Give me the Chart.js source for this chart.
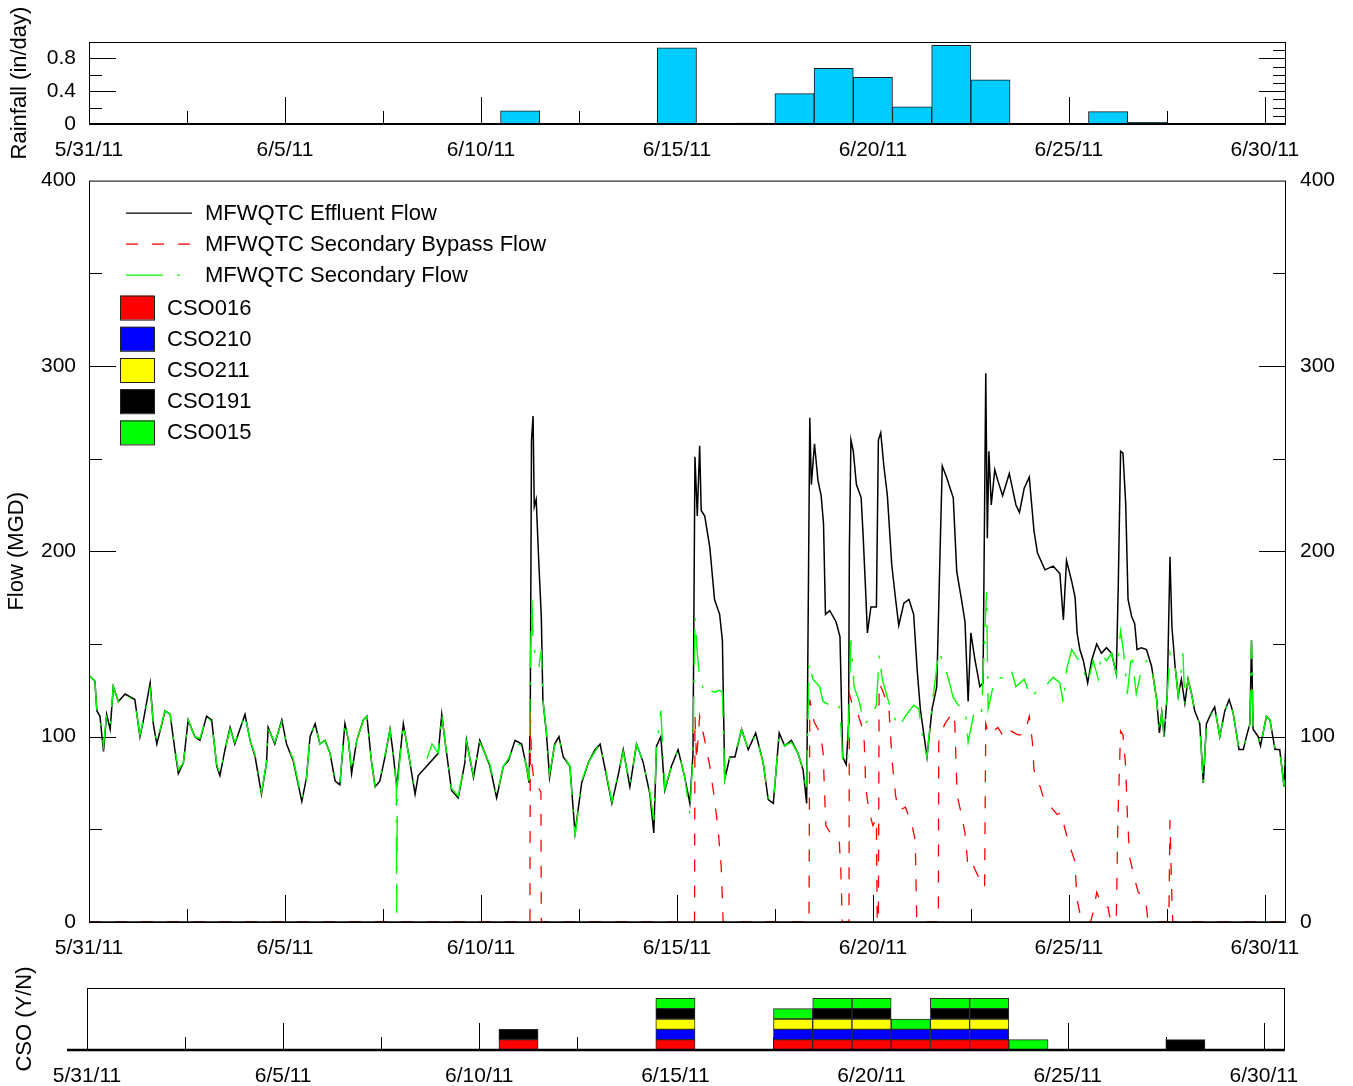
<!DOCTYPE html>
<html>
<head>
<meta charset="utf-8">
<title>MFWQTC flows and CSO, June 2011</title>
<script src="https://cdn.jsdelivr.net/npm/chart.js@4.4.1/dist/chart.umd.min.js"></script>
<style>
  body { margin: 0; background: #fff; }
  #wrap { position: relative; width: 1353px; height: 1086px; }
  .panel { position: absolute; left: 0; width: 1353px; }
  #rainBox { top: 0; height: 165px; }
  #flowBox { top: 154px; height: 811px; }
  #csoBox { top: 965px; height: 121px; }
</style>
</head>
<body>
<div id="wrap">
  <div class="panel" id="rainBox"><canvas id="rainChart"></canvas></div>
  <div class="panel" id="flowBox"><canvas id="flowChart"></canvas></div>
  <div class="panel" id="csoBox"><canvas id="csoChart"></canvas></div>
</div>
<script>
// x values are days after 5/31/11 00:00
const dateLabels = ['5/31/11', '6/5/11', '6/10/11', '6/15/11', '6/20/11', '6/25/11', '6/30/11'];
const xMax = 30.54;

// daily rainfall (in/day)
const rainDays = [11, 15, 17, 18, 19, 20, 21, 22, 23, 26, 27];
const rainInches = [0.16, 0.93, 0.01, 0.37, 0.68, 0.57, 0.21, 0.96, 0.54, 0.15, 0.02];

// MFWQTC effluent flow (MGD)
const effluentDays = [
  0.00, 0.15, 0.20, 0.28, 0.37, 0.45, 0.54, 0.62, 0.75, 0.92, 1.17, 1.30, 1.39, 1.56, 1.64, 1.73, 1.94, 2.07, 2.19, 2.28,
  2.41, 2.53, 2.70, 2.83, 3.00, 3.13, 3.26, 3.34, 3.47, 3.60, 3.72, 3.85, 3.98, 4.11, 4.24, 4.40, 4.53, 4.57, 4.74, 4.92,
  5.04, 5.21, 5.43, 5.55, 5.64, 5.77, 5.89, 6.02, 6.15, 6.28, 6.40, 6.53, 6.62, 6.70, 6.83, 7.00, 7.09, 7.21, 7.30, 7.42,
  7.55, 7.68, 7.76, 7.85, 8.02, 8.15, 8.32, 8.40, 8.91, 9.00, 9.08, 9.25, 9.42, 9.59, 9.63, 9.81, 9.97, 10.10, 10.23, 10.40,
  10.57, 10.70, 10.87, 11.04, 11.16, 11.23, 11.26, 11.29, 11.33, 11.36, 11.41, 11.48, 11.54, 11.58, 11.67, 11.75, 11.88, 11.99, 12.10, 12.27,
  12.40, 12.57, 12.74, 12.91, 13.04, 13.21, 13.34, 13.51, 13.63, 13.80, 13.97, 14.14, 14.31, 14.41, 14.48, 14.59, 14.69, 14.86, 15.03, 15.20,
  15.33, 15.41, 15.46, 15.52, 15.58, 15.62, 15.71, 15.84, 15.96, 16.09, 16.16, 16.22, 16.35, 16.48, 16.65, 16.82, 17.01, 17.20, 17.33, 17.46,
  17.61, 17.75, 17.92, 18.09, 18.22, 18.31, 18.39, 18.43, 18.51, 18.60, 18.68, 18.74, 18.79, 18.90, 19.06, 19.16, 19.23, 19.32, 19.38, 19.40,
  19.44, 19.50, 19.58, 19.70, 19.75, 19.81, 19.86, 19.95, 20.09, 20.14, 20.20, 20.28, 20.37, 20.48, 20.58, 20.66, 20.79, 20.92, 21.04, 21.13,
  21.21, 21.38, 21.51, 21.63, 21.72, 21.77, 21.88, 21.97, 22.05, 22.14, 22.26, 22.35, 22.43, 22.50, 22.60, 22.73, 22.81, 22.88, 22.92, 22.96,
  23.02, 23.11, 23.19, 23.31, 23.48, 23.65, 23.74, 23.86, 23.99, 24.11, 24.20, 24.39, 24.60, 24.77, 24.86, 24.94, 25.07, 25.16, 25.21, 25.28,
  25.37, 25.48, 25.58, 25.71, 25.83, 25.96, 26.09, 26.21, 26.26, 26.32, 26.38, 26.45, 26.51, 26.60, 26.68, 26.74, 26.85, 26.98, 27.11, 27.24,
  27.31, 27.37, 27.43, 27.51, 27.58, 27.63, 27.71, 27.79, 27.87, 27.96, 28.04, 28.13, 28.21, 28.34, 28.43, 28.51, 28.64, 28.72, 28.85, 28.98,
  29.09, 29.19, 29.34, 29.45, 29.53, 29.62, 29.66, 29.70, 29.83, 29.89, 30.04, 30.13, 30.26, 30.38, 30.49, 30.54
];
const effluentMGD = [
  133, 130, 114, 111, 92, 112, 104, 127, 119, 123, 120, 100, 109, 129, 107, 96, 114, 112, 93, 80,
  86, 109, 100, 98, 111, 109, 84, 79, 93, 105, 96, 104, 112, 98, 89, 69, 86, 105, 96, 109,
  96, 87, 65, 78, 100, 107, 96, 98, 91, 76, 74, 107, 98, 80, 98, 109, 111, 86, 73, 76,
  89, 104, 91, 73, 107, 91, 69, 79, 91, 112, 98, 71, 67, 86, 98, 78, 98, 91, 84, 67,
  84, 87, 98, 96, 84, 75, 120, 260, 273, 224, 228, 192, 165, 120, 102, 78, 96, 100, 89, 84,
  48, 75, 86, 93, 96, 78, 64, 80, 93, 73, 96, 86, 69, 48, 95, 100, 71, 84, 93, 78,
  64, 91, 251, 219, 257, 222, 219, 202, 174, 166, 152, 77, 89, 89, 104, 93, 102, 86, 66, 64,
  102, 95, 98, 91, 82, 64, 272, 236, 258, 238, 230, 215, 166, 168, 162, 154, 89, 85, 107, 201,
  260, 254, 236, 229, 209, 181, 156, 170, 170, 260, 264, 246, 230, 193, 174, 160, 172, 174, 166, 136,
  115, 89, 115, 127, 205, 246, 240, 234, 229, 189, 174, 162, 119, 156, 142, 127, 129, 296, 207, 254,
  225, 244, 238, 230, 242, 225, 221, 234, 240, 211, 199, 190, 192, 188, 163, 195, 184, 175, 156, 147,
  141, 129, 141, 150, 145, 148, 145, 134, 181, 254, 253, 226, 174, 165, 161, 147, 148, 147, 138, 120,
  102, 113, 100, 123, 197, 159, 138, 122, 131, 118, 131, 123, 114, 107, 75, 107, 113, 116, 100, 114,
  120, 113, 93, 93, 100, 107, 152, 104, 100, 95, 111, 109, 93, 93, 73, 98
];

// MFWQTC secondary flow (MGD), null = no record
const secondaryDays = [
  0.00, 0.15, 0.20, 0.28, 0.37, 0.45, 0.54, 0.62, 0.75, 0.92, 1.17, 1.30, 1.39, 1.56, 1.64, 1.73, 1.94, 2.07, 2.19, 2.28,
  2.41, 2.53, 2.70, 2.83, 3.00, 3.13, 3.26, 3.34, 3.47, 3.60, 3.72, 3.85, 3.98, 4.11, 4.24, 4.40, 4.53, 4.57, 4.74, 4.92,
  5.04, 5.21, 5.43, 5.55, 5.64, 5.77, 5.89, 6.02, 6.15, 6.28, 6.40, 6.53, 6.62, 6.70, 6.83, 7.00, 7.09, 7.21, 7.30, 7.42,
  7.55, 7.68, 7.76, 7.84, 7.85, 7.87, 8.02, 8.15, 8.32, 8.40, 8.62, 8.75, 8.91, 9.00, 9.08, 9.25, 9.42, 9.59, 9.63, 9.81,
  9.97, 10.10, 10.23, 10.40, 10.57, 10.70, 10.87, 11.04, 11.16, 11.23, 11.26, 11.30, 11.33, 11.41, 11.48, 11.54, 11.58, 11.67, 11.75, 11.88,
  11.99, 12.10, 12.27, 12.40, 12.57, 12.74, 12.91, 13.04, 13.21, 13.34, 13.51, 13.63, 13.80, 13.97, 14.14, 14.31, 14.41, 14.48, 14.59, 14.69,
  14.86, 15.03, 15.20, 15.33, 15.41, 15.46, 15.52, 15.58, 15.71, 15.84, 15.96, 16.09, 16.16, 16.22, 16.35, 16.48, 16.65, 16.82, 17.01, 17.20,
  17.33, 17.46, 17.61, 17.75, 17.92, 18.09, 18.22, 18.31, 18.37, 18.47, 18.64, 18.73, 18.90, 19.06, 19.16, 19.23, 19.35, 19.44, 19.52, 19.65,
  19.78, 19.91, 20.09, 20.16, 20.24, 20.37, 20.49, 20.66, 20.83, 21.04, 21.17, 21.29, 21.38, 21.51, 21.68, 21.80, 21.93, 22.05, 22.18, 22.35,
  22.43, 22.60, 22.77, 22.90, 22.94, 23.11, 23.36, 23.53, 23.65, 23.86, 24.03, 24.20, 24.39, 24.60, 24.77, 24.86, 24.94, 25.07, 25.19, 25.32,
  25.48, 25.62, 25.75, 25.83, 25.96, 26.09, 26.21, 26.32, 26.40, 26.49, 26.60, 26.72, 26.85, 26.98, 27.11, 27.24, 27.31, 27.37, 27.43, 27.51,
  27.58, 27.63, 27.71, 27.79, 27.91, 27.96, 28.04, 28.13, 28.21, 28.34, 28.43, 28.51, 28.64, 28.72, 28.85, 28.98, 29.09, 29.19, 29.34, 29.45,
  29.53, 29.62, 29.66, 29.70, 29.83, 29.89, 30.04, 30.13, 30.26, 30.38, 30.49, 30.54
];
const secondaryMGD = [
  133, 130, 114, 111, 95, 112, 106, 127, 119, 123, 119, 101, 109, 126, 108, 97, 114, 112, 94, 82,
  86, 109, 100, 99, 111, 108, 85, 80, 93, 104, 97, 104, 112, 98, 90, 70, 86, 104, 97, 108,
  96, 88, 66, 78, 100, 107, 96, 98, 91, 77, 74, 108, 98, 81, 98, 109, 111, 86, 73, 77,
  90, 104, 91, 74, 5, 74, 107, 91, 70, null, 88, 96, 91, 112, 98, 72, 68, 86, 97, 79,
  97, 91, 85, 68, 84, 88, 97, 95, 84, 76, 140, 174, 152, 140, 138, 147, 120, 103, 80, 95,
  100, 90, 84, 46, 76, 86, 92, 96, 79, 65, 80, 92, 74, 96, 86, 70, 55, 95, 114, 72,
  84, 93, 78, 58, 91, 165, 145, 132, 123, 125, 124, 125, 124, 77, 89, 90, 104, 93, 101, 86,
  67, 65, 101, 95, 97, 91, 82, 70, 140, 131, 127, 119, 117, 119, 115, 87, 85, 152, 127, 119,
  107, 109, 117, 144, 131, 121, 113, 105, 111, 117, 115, 97, 89, 117, 146, 140, 131, 121, 117, 115,
  97, 115, 113, 178, 115, 131, 132, 136, 127, 131, 121, 125, 127, 132, 129, 118, 136, 147, 143, 139,
  129, 141, 131, 145, 141, 145, 134, 157, 145, 123, 145, 123, 136, 141, 138, 120, 102, 113, 100, 123,
  145, 141, 138, 122, 145, 118, 131, 123, 114, 107, 74, 107, 112, 116, 100, 114, 119, 113, 93, 93,
  100, 107, 152, 104, 100, 95, 111, 109, 93, 93, 73, 98
];

// MFWQTC secondary bypass flow (MGD)
const bypassDays = [
  0.00, 11.25, 11.26, 11.29, 11.36, 11.48, 11.53, 11.54, 15.45, 15.46, 15.50, 15.58, 15.71, 15.84, 15.96, 16.05, 16.13, 16.18,
  18.37, 18.39, 18.50, 18.60, 18.68, 18.73, 18.77, 18.80, 18.97, 19.14, 19.18, 19.22,
  19.39, 19.40, 19.48, 19.60, 19.70, 19.78, 19.82, 19.90, 20.00, 20.09, 20.11, 20.14,
  20.16, 20.28, 20.41, 20.49, 20.58, 20.66, 20.83, 21.00, 21.08, 21.12,
  21.67, 21.68, 21.76, 21.84, 21.97, 22.05, 22.09, 22.15, 22.26, 22.35, 22.43, 22.55, 22.68, 22.77, 22.85,
  22.88, 22.96, 23.19, 23.36, 23.53, 23.70, 23.86, 23.99, 24.07, 24.11, 24.22, 24.37, 24.54, 24.70, 24.81, 24.89,
  25.02, 25.15, 25.21, 25.28, 25.37, 25.41, 25.55, 25.62, 25.71, 25.79, 25.88, 26.00, 26.04, 26.21,
  26.25, 26.32, 26.38, 26.45, 26.49, 26.55, 26.68, 26.77, 26.89, 26.98, 27.02, 27.55, 27.58, 27.62, 27.65, 30.54
];
const bypassMGD = [
  0, 0, 113, 87, 75, 72, 70, 0, 0, 111, 87, 111, 98, 84, 66, 50, 30, 0,
  0, 120, 108, 104, 100, 91, 68, 52, 46, 44, 29, 0,
  0, 123, 117, 113, 107, 97, 72, 60, 52, 56, 0, 0,
  129, 123, 115, 87, 68, 60, 62, 52, 44, 0,
  0, 97, 103, 107, 111, 113, 107, 68, 58, 48, 29, 31, 25, 19, 19,
  107, 101, 105, 99, 103, 101, 101, 111, 97, 82, 76, 66, 62, 58, 59, 51,
  41, 33, 12, 5, 3, 0, 0, 5, 16, 12, 8, 8, 3, 0,
  55, 103, 101, 84, 59, 35, 23, 16, 14, 8, 0, 0, 55, 19, 0, 0
];

// CSO overflow days (Y = one block)
const csoNames = ['CSO016', 'CSO210', 'CSO211', 'CSO191', 'CSO015'];
const csoColors = ['#ff0000', '#0000ff', '#ffff00', '#000000', '#00ff00'];
const csoDays = [
  [11, 15, 18, 19, 20, 21, 22, 23],
  [15, 18, 19, 20, 21, 22, 23],
  [15, 18, 19, 20, 22, 23],
  [11, 15, 19, 20, 22, 23, 28],
  [15, 18, 19, 20, 21, 22, 23, 24]
];

Chart.defaults.font.family = "'Liberation Sans', Arial, sans-serif";
Chart.defaults.font.size = 21;
Chart.defaults.color = '#000';
Chart.defaults.animation = false;

function toPoints(days, vals) {
  return days.map((d, i) => ({ x: d, y: vals[i] }));
}

// inward tick marks go under the data, the plot box over it
const framePlugin = {
  id: 'frame',
  beforeDatasetsDraw(chart, args, opts) {
    const { ctx, chartArea: a } = chart;
    const xs = chart.scales.x;
    const seg = (x1, y1, x2, y2) => { ctx.beginPath(); ctx.moveTo(x1, y1); ctx.lineTo(x2, y2); ctx.stroke(); };
    ctx.save();
    ctx.strokeStyle = '#000';
    ctx.lineWidth = 1;
    for (let k = 1; k * 2.5 <= xs.max; k++) {
      const px = Math.round(xs.getPixelForValue(k * 2.5)) + 0.5;
      seg(px, a.bottom, px, a.bottom - (k % 2 === 0 ? 27 : 13));
    }
    const yTicks = (scale, step, major, side) => {
      for (let k = 1; k * step < scale.max - 1e-6; k++) {
        const v = k * step;
        const isMajor = Math.abs(v / major - Math.round(v / major)) < 1e-6;
        const py = Math.round(scale.getPixelForValue(v)) + 0.5;
        const len = isMajor ? 27 : 13;
        if (side === 'left') seg(a.left, py, a.left + len, py);
        else seg(a.right, py, a.right - len, py);
      }
    };
    if (opts.left) yTicks(chart.scales.y, opts.left[0], opts.left[1], 'left');
    if (opts.right) yTicks(chart.scales.y, opts.right[0], opts.right[1], 'right');
    ctx.restore();
  },
  afterDatasetsDraw(chart, args, opts) {
    const { ctx, chartArea: a } = chart;
    ctx.save();
    ctx.strokeStyle = '#000';
    ctx.lineWidth = 1;
    ctx.strokeRect(a.left + 0.5, a.top + 0.5, a.right - a.left - 1, a.bottom - a.top);
    ctx.lineWidth = opts.baseWidth || 1.5;
    ctx.beginPath();
    ctx.moveTo(a.left - (opts.baseExtend || 0), a.bottom);
    ctx.lineTo(a.right, a.bottom);
    ctx.stroke();
    ctx.restore();
  }
};

// legend drawn inside the flow plot, also listing the CSO colours
const flowLegend = {
  id: 'flowLegend',
  afterDraw(chart) {
    const ctx = chart.ctx;
    const top = chart.chartArea.top;
    ctx.save();
    ctx.font = "22px 'Liberation Sans', Arial, sans-serif";
    ctx.textBaseline = 'middle';
    ctx.fillStyle = '#000';
    const lineItems = chart.data.datasets.slice().sort((p, q) => p.legendRank - q.legendRank);
    lineItems.forEach((ds, i) => {
      const y = top + 32 + i * 31;
      ctx.strokeStyle = ds.borderColor;
      ctx.lineWidth = 1.3;
      ctx.setLineDash(ds.borderDash || []);
      ctx.beginPath(); ctx.moveTo(126, y + 0.5); ctx.lineTo(192, y + 0.5); ctx.stroke();
      ctx.setLineDash([]);
      ctx.fillText(ds.label, 205, y + 1);
    });
    csoNames.forEach((name, i) => {
      const y = top + 127 + i * 31.2;
      ctx.fillStyle = csoColors[i];
      ctx.fillRect(120, y - 12, 34, 24);
      ctx.strokeStyle = '#222';
      ctx.lineWidth = 1;
      ctx.strokeRect(120.5, y - 11.5, 34, 24);
      ctx.fillStyle = '#000';
      ctx.fillText(name, 167, y + 1);
    });
    ctx.restore();
  }
};

const xAxis = (height) => ({
  type: 'linear',
  min: 0,
  max: xMax,
  offset: false,
  grid: { display: false, drawTicks: false, offset: false },
  border: { display: false },
  ticks: {
    stepSize: 5,
    includeBounds: false,
    maxRotation: 0,
    autoSkip: false,
    padding: 14,
    callback: v => dateLabels[Math.round(v / 5)]
  },
  afterFit: s => { s.height = height; }
});

const titleFont = { size: 22 };

// Rainfall panel
new Chart(document.getElementById('rainChart'), {
  type: 'bar',
  data: {
    datasets: [{
      label: 'Rainfall',
      data: toPoints(rainDays, rainInches),
      backgroundColor: '#00ccff',
      borderColor: '#1a1a1a',
      borderWidth: 1,
      barPercentage: 1,
      categoryPercentage: 1
    }]
  },
  options: {
    responsive: true,
    maintainAspectRatio: false,
    layout: { padding: { top: 42, right: 67, left: 0, bottom: 0 } },
    plugins: {
      legend: { display: false },
      tooltip: { enabled: false },
      frame: { left: [0.2, 0.4], right: [0.1, 0.4], baseWidth: 2 }
    },
    scales: {
      x: xAxis(41),
      y: {
        min: 0,
        max: 1,
        grid: { display: false, drawTicks: false },
        border: { display: false },
        ticks: { stepSize: 0.4, includeBounds: false, padding: 13 },
        title: { display: true, text: 'Rainfall (in/day)', font: titleFont, padding: { top: 7 } },
        afterFit: s => { s.width = 89; }
      }
    }
  },
  plugins: [framePlugin]
});

// Flow panel
new Chart(document.getElementById('flowChart'), {
  type: 'line',
  data: {
    datasets: [
      {
        label: 'MFWQTC Secondary Flow',
        data: toPoints(secondaryDays, secondaryMGD),
        borderColor: '#00ff00',
        borderDash: [37, 14, 3, 14],
        borderWidth: 1.4,
        legendRank: 2,
        order: 0
      },
      {
        label: 'MFWQTC Secondary Bypass Flow',
        data: toPoints(bypassDays, bypassMGD),
        borderColor: '#ff0000',
        borderDash: [12, 14],
        borderWidth: 1.3,
        legendRank: 1,
        order: 1
      },
      {
        label: 'MFWQTC Effluent Flow',
        data: toPoints(effluentDays, effluentMGD),
        borderColor: '#000000',
        borderWidth: 1.5,
        legendRank: 0,
        order: 2
      }
    ]
  },
  options: {
    responsive: true,
    maintainAspectRatio: false,
    layout: { padding: { top: 0, right: 0, left: 0, bottom: 0 } },
    elements: { point: { radius: 0 }, line: { tension: 0 } },
    spanGaps: false,
    plugins: {
      legend: { display: false },
      tooltip: { enabled: false },
      frame: { left: [50, 100], right: [50, 100], baseWidth: 1.5 }
    },
    scales: {
      x: xAxis(43),
      y: {
        min: 0,
        max: 400,
        grid: { display: false, drawTicks: false },
        border: { display: false },
        ticks: { stepSize: 100, padding: 13 },
        title: { display: true, text: 'Flow (MGD)', font: titleFont, padding: { top: 4 } },
        afterFit: s => { s.width = 89; }
      },
      y2: {
        position: 'right',
        min: 0,
        max: 400,
        grid: { display: false, drawTicks: false },
        border: { display: false },
        ticks: { stepSize: 100, padding: 14 },
        afterFit: s => { s.width = 67; }
      }
    }
  },
  plugins: [framePlugin, flowLegend]
});

// CSO yes/no panel
new Chart(document.getElementById('csoChart'), {
  type: 'bar',
  data: {
    datasets: csoNames.map((name, i) => ({
      label: name,
      data: csoDays[i].map(d => ({ x: d, y: 1 })),
      backgroundColor: csoColors[i],
      borderColor: '#2a2a2a',
      borderWidth: 1,
      borderSkipped: false,
      barPercentage: 1,
      categoryPercentage: 1
    }))
  },
  options: {
    responsive: true,
    maintainAspectRatio: false,
    layout: { padding: { top: 23, right: 68, left: 0, bottom: 0 } },
    plugins: {
      legend: { display: false },
      tooltip: { enabled: false },
      frame: { baseWidth: 2.5, baseExtend: 20 }
    },
    scales: {
      x: Object.assign(xAxis(36), { stacked: true }),
      y: {
        stacked: true,
        min: 0,
        max: 6,
        grid: { display: false, drawTicks: false },
        border: { display: false },
        ticks: { display: false },
        title: { display: true, text: 'CSO (Y/N)', font: titleFont, padding: { top: 12 } },
        afterFit: s => { s.width = 87; }
      }
    }
  },
  plugins: [framePlugin]
});
</script>
</body>
</html>
